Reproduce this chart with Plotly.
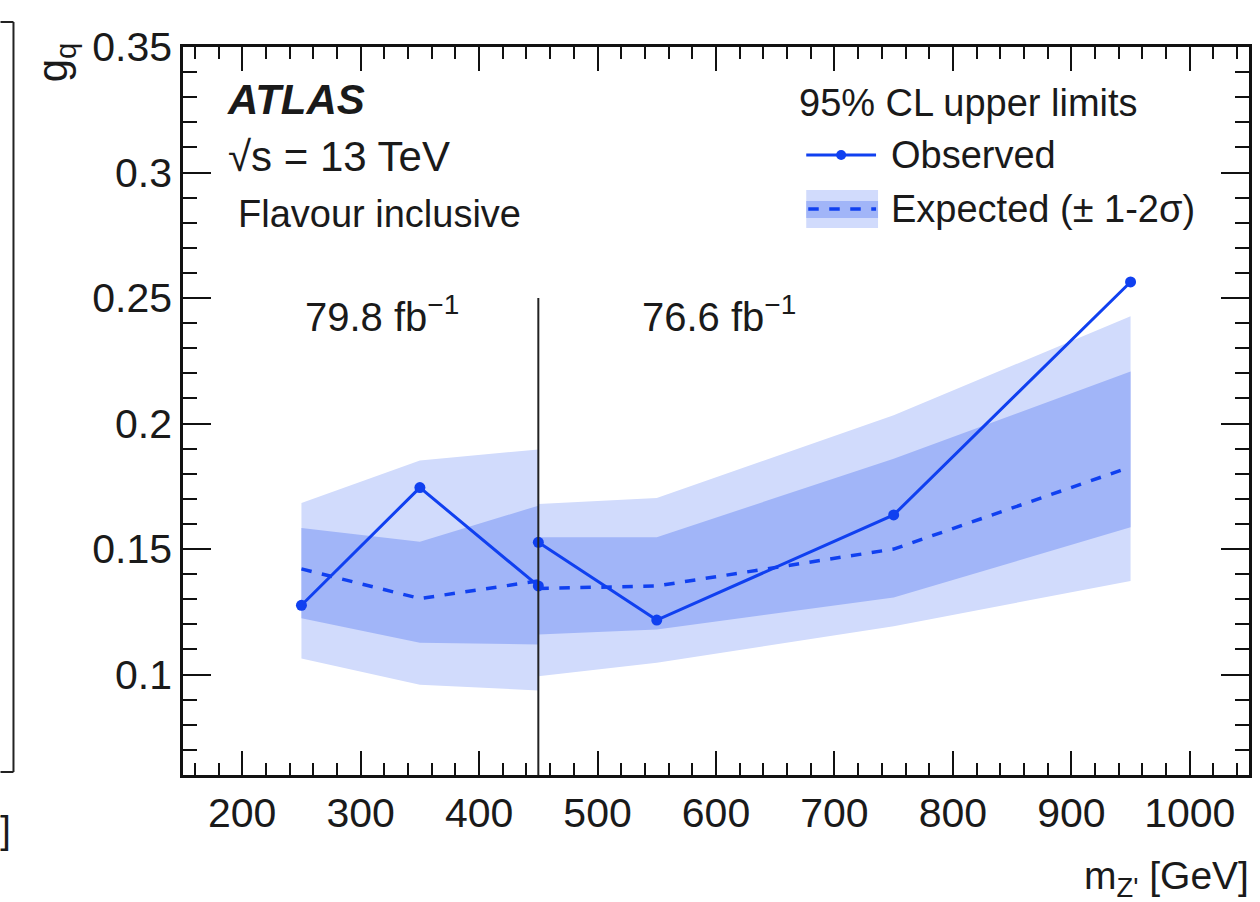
import plotly.graph_objects as go

# ---------------- data ----------------
mass_a = [250, 350, 450]            # 79.8 fb-1 region
obs_a = [0.1276, 0.1745, 0.1353]
exp_a = [0.1421, 0.1303, 0.1373]
p1_a = [0.1584, 0.1529, 0.1673]
m1_a = [0.1224, 0.1127, 0.1120]
p2_a = [0.1684, 0.1853, 0.1897]
m2_a = [0.1064, 0.0960, 0.0937]

mass_b = [450, 550, 750, 950]       # 76.6 fb-1 region
obs_b = [0.1527, 0.1217, 0.1636, 0.2564]
exp_b = [0.1343, 0.1353, 0.1500, 0.1827]
p1_b = [0.1547, 0.1547, 0.1860, 0.2207]
m1_b = [0.1160, 0.1180, 0.1307, 0.1587]
p2_b = [0.1680, 0.1703, 0.2033, 0.2427]
m2_b = [0.0993, 0.1047, 0.1193, 0.1373]

split_mass = 450
split_top = 0.25

y_ticks = [0.1, 0.15, 0.2, 0.25, 0.3, 0.35]
y_tick_text = ["0.1", "0.15", "0.2", "0.25", "0.3", "0.35"]
x_ticks = [200, 300, 400, 500, 600, 700, 800, 900, 1000]

# ---------------- style ----------------
FONT = "Liberation Sans, Arial, Helvetica, sans-serif"
TXT = "#1a1a1a"
BLUE = "#1040f0"
BAND2 = "#d1dbfc"
BAND1 = "#a1b5f8"

W, H = 1260, 902
L, R, T, B = 183, 8, 47, 127
PW, PH = W - L - R, H - T - B


def px(x):
    return (x - L) / PW


def py(y):
    return (H - B - y) / PH


fig = go.Figure()


def band(xs, lo, hi, color):
    fig.add_trace(go.Scatter(
        x=list(xs) + list(xs)[::-1], y=list(hi) + list(lo)[::-1],
        fill="toself", fillcolor=color, mode="lines",
        line=dict(width=0), hoverinfo="skip", showlegend=False))


for xs, m2, p2, m1, p1 in [(mass_a, m2_a, p2_a, m1_a, p1_a),
                            (mass_b, m2_b, p2_b, m1_b, p1_b)]:
    band(xs, m2, p2, BAND2)
    band(xs, m1, p1, BAND1)

for xs, ex in [(mass_a, exp_a), (mass_b, exp_b)]:
    fig.add_trace(go.Scatter(x=xs, y=ex, mode="lines",
                             line=dict(color=BLUE, width=3.5, dash="dash"),
                             showlegend=False))

for xs, ob in [(mass_a, obs_a), (mass_b, obs_b)]:
    fig.add_trace(go.Scatter(x=xs, y=ob, mode="lines+markers",
                             line=dict(color=BLUE, width=3),
                             marker=dict(color=BLUE, size=11),
                             showlegend=False))

# separating vertical line
fig.add_shape(type="line", xref="x", yref="y", x0=split_mass, x1=split_mass,
              y0=0.06, y1=split_top, line=dict(color="#222", width=2))

# ---------------- legend (manual) ----------------
shapes = [
    dict(type="rect", xref="paper", yref="paper", x0=px(808), x1=px(880),
         y0=py(228), y1=py(190), fillcolor=BAND2, line=dict(width=0)),
    dict(type="rect", xref="paper", yref="paper", x0=px(808), x1=px(880),
         y0=py(218), y1=py(201), fillcolor=BAND1, line=dict(width=0)),
    dict(type="line", xref="paper", yref="paper", x0=px(810), x1=px(878),
         y0=py(209), y1=py(209), line=dict(color=BLUE, width=3.5, dash="dash")),
    dict(type="line", xref="paper", yref="paper", x0=px(808), x1=px(878),
         y0=py(155), y1=py(155), line=dict(color=BLUE, width=3)),
    dict(type="circle", xref="paper", yref="paper", x0=px(838), x1=px(848),
         y0=py(160), y1=py(150), fillcolor=BLUE, line=dict(width=0)),
    # fragment of the neighbouring panel at the far left
    dict(type="line", xref="paper", yref="paper", x0=px(13), x1=px(13),
         y0=py(772), y1=py(22), line=dict(color="#222", width=2)),
    dict(type="line", xref="paper", yref="paper", x0=px(0), x1=px(13),
         y0=py(22), y1=py(22), line=dict(color="#222", width=2)),
    dict(type="line", xref="paper", yref="paper", x0=px(0), x1=px(13),
         y0=py(772), y1=py(772), line=dict(color="#222", width=2)),
]
for s in shapes:
    fig.add_shape(**s)


def ann(text, x, y, size, xanchor="left", yanchor="middle", angle=0, **kw):
    fig.add_annotation(text=text, x=px(x), y=py(y), xref="paper", yref="paper",
                       xanchor=xanchor, yanchor=yanchor, showarrow=False,
                       textangle=angle, font=dict(family=FONT, size=size, color=TXT), **kw)


ann("<b><i>ATLAS</i></b>", 225, 100, 42)
ann("√s = 13 TeV", 226, 156, 42)
ann("Flavour inclusive", 236, 214, 38)
ann("79.8 fb<sup>−1</sup>", 303, 314, 40)
ann("76.6 fb<sup>−1</sup>", 641, 314, 40)
ann("95% CL upper limits", 799, 103, 38)
ann("Observed", 891, 155, 38)
ann("Expected (± 1-2σ)", 891, 209, 38)
ann("m<sub>Z'</sub> [GeV]", 1254, 878, 39, xanchor="right")
ann("g<sub>q</sub>", 55, 62, 42, xanchor="center", angle=-90)
ann("V]", 13, 830, 38, xanchor="right")

axis_common = dict(showline=True, linecolor="#111", linewidth=2.5, mirror="ticks",
                   ticks="inside", tickcolor="#111", tickwidth=2,
                   showgrid=False, zeroline=False,
                   tickfont=dict(family=FONT, size=41, color=TXT))

fig.update_xaxes(range=[150, 1050], tickvals=x_ticks, ticklen=24,
                 minor=dict(ticks="inside", dtick=20, tick0=0, ticklen=12,
                            tickwidth=2, tickcolor="#111"),
                 **axis_common)
fig.update_yaxes(range=[0.06, 0.35], tickvals=y_ticks, ticktext=y_tick_text,
                 ticklen=28,
                 minor=dict(ticks="inside", dtick=0.01, tick0=0, ticklen=14,
                            tickwidth=2, tickcolor="#111"),
                 **axis_common)

fig.update_layout(width=W, height=H, margin=dict(l=L, r=R, t=T, b=B),
                  plot_bgcolor="white", paper_bgcolor="white",
                  showlegend=False, font=dict(family=FONT, color=TXT))

fig.write_html("out.html")
